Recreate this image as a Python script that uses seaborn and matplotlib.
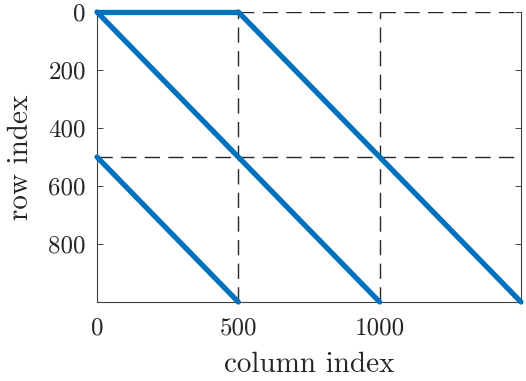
import numpy as np
import pandas as pd
import seaborn as sns
import matplotlib.pyplot as plt

# nonzero pattern of the matrix: straight runs of entries (column, row)
seg_names = ["top row", "main diagonal", "shifted diagonal", "lower diagonal"]
col_start = [0, 0, 500, 0]
col_end = [500, 1000, 1500, 500]
row_start = [0, 0, 0, 500]
row_end = [0, 1000, 1000, 1000]

# block partition
block_cols = [500, 1000]
block_rows = [0, 500]

x_ticks = [0, 500, 1000]
y_ticks = [0, 200, 400, 600, 800]

sns.set_theme(style="white")
plt.rcParams["font.family"] = ["cmr10", "DejaVu Serif"]
plt.rcParams["axes.formatter.use_mathtext"] = True

rows = []
for name, c0, c1, r0, r1 in zip(seg_names, col_start, col_end, row_start, row_end):
    rows.append({"segment": name, "col": c0, "row": r0})
    rows.append({"segment": name, "col": c1, "row": r1})
df = pd.DataFrame(rows)

fig = plt.figure(figsize=(5.26, 3.81), dpi=100)
ax = fig.add_axes([97 / 526, (381 - 302) / 381, 424 / 526, 290 / 381])

for c in block_cols:
    ax.axvline(c, color="#262626", lw=1.0, ls=(0, (11, 6)), zorder=1)
for r in block_rows:
    ax.axhline(r, color="#262626", lw=1.0, ls=(0, (11, 6)), zorder=1)

sns.lineplot(data=df, x="col", y="row", units="segment", estimator=None,
             sort=False, color="#0072BD", lw=3.8, ax=ax, zorder=3,
             solid_capstyle="round", clip_on=False)

ax.set_xlim(0, 1500)
ax.set_ylim(1000, 0)
ax.set_xticks(x_ticks)
ax.set_xticklabels([str(t) for t in x_ticks])
ax.set_yticks(y_ticks)
ax.set_yticklabels([str(t) for t in y_ticks])
ax.tick_params(direction="in", length=4, width=0.6, color="#262626",
               labelsize=18, pad=8, right=True, left=True, bottom=True,
               labelcolor="#262626")
ax.tick_params(axis="x", pad=11)
for side in ["left", "right", "bottom"]:
    ax.spines[side].set_color("#404040")
    ax.spines[side].set_linewidth(0.8)
ax.spines["top"].set_visible(False)

ax.set_xlabel("column index", fontsize=21, color="#262626", labelpad=9)
ax.set_ylabel("row index", fontsize=21, color="#262626", labelpad=10)

fig.savefig("out.png", dpi=100)
